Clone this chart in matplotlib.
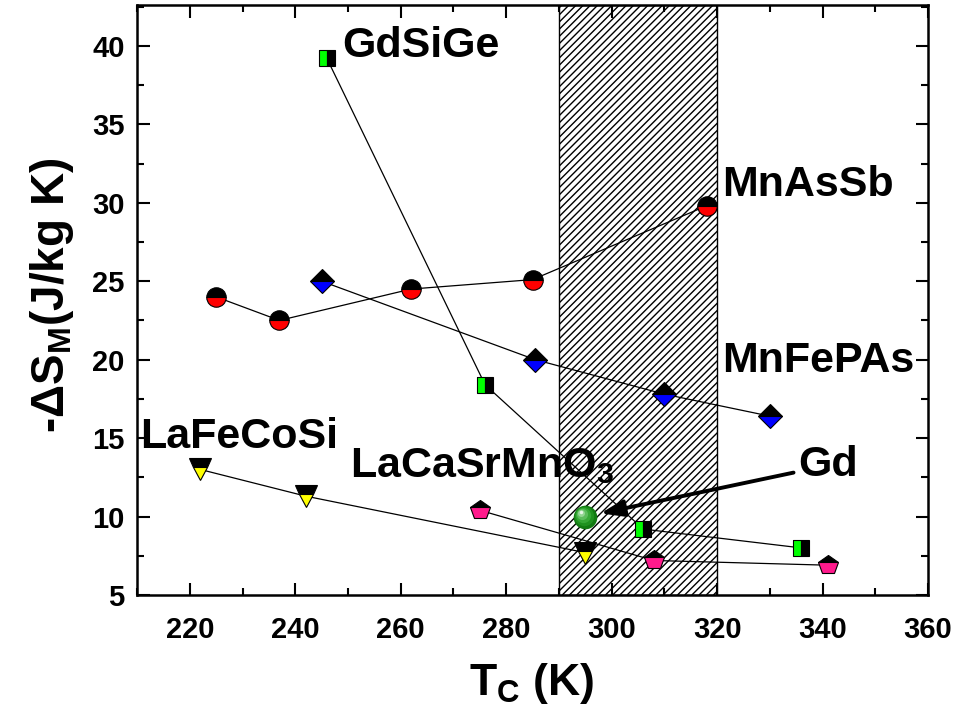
import matplotlib.pyplot as plt
import matplotlib.transforms as mtransforms
from matplotlib.collections import LineCollection
from matplotlib.ticker import MultipleLocator

plt.rcParams['font.family'] = ['Liberation Sans', 'DejaVu Sans']
plt.rcParams['font.weight'] = 'bold'
plt.rcParams['mathtext.fontset'] = 'custom'
plt.rcParams['mathtext.rm'] = 'Liberation Sans:bold'
plt.rcParams['mathtext.it'] = 'Liberation Sans:bold'
plt.rcParams['mathtext.bf'] = 'Liberation Sans:bold'
plt.rcParams['mathtext.default'] = 'regular'

# Curie temperature (K) and magnetic entropy change (J/kg K) per material family
mnassb_tc = [225, 237, 262, 285, 318]
mnassb_ds = [24.0, 22.5, 24.5, 25.1, 29.8]
mnfepas_tc = [245, 285.5, 310, 330]
mnfepas_ds = [25.0, 20.0, 17.8, 16.4]
gdsige_tc = [246, 276, 306, 336]
gdsige_ds = [39.2, 18.4, 9.2, 8.0]
lafecosi_tc = [222, 242, 295]
lafecosi_ds = [13.0, 11.3, 7.7]
lacasrmno_tc = [275, 308, 341]
lacasrmno_ds = [10.4, 7.2, 6.9]
gd_tc = [295]
gd_ds = [10.0]

# room temperature window
band = (290, 320)

fig = plt.figure(figsize=(9.57, 7.08), dpi=100)
ax = fig.add_axes([0.1432, 0.1596, 0.8265, 0.8333])
ax.set_xlim(210, 360)
ax.set_ylim(5, 42.6)

rect = ax.axvspan(band[0], band[1], facecolor='white', edgecolor='black',
                  linewidth=1.0, zorder=1)

# diagonal hatching, drawn by hand for a tighter spacing than hatch='//' gives
w_px = 0.8265 * 957
h_px = 0.8333 * 708
step = 7.2
segs = []
k = -h_px
while k < w_px:
    segs.append([(k / w_px, 0.0), ((k + h_px) / w_px, 1.0)])
    k += step
hatch = LineCollection(segs, colors='black', linewidths=1.0,
                       transform=ax.transAxes, zorder=1.5)
ax.add_collection(hatch, autolim=False)
hatch.set_clip_path(rect)

series = [
    (mnassb_tc, mnassb_ds, 'o', 'top', 'black', 'red', 14),
    (mnfepas_tc, mnfepas_ds, 'D', 'top', 'black', '#0000ff', 12.5),
    (gdsige_tc, gdsige_ds, 's', 'left', '#00ff00', 'black', 11.5),
    (lafecosi_tc, lafecosi_ds, 'v', 'top', 'black', '#ffff00', 16),
    (lacasrmno_tc, lacasrmno_ds, 'p', 'top', 'black', '#ff1a8c', 14.5),
]
for x, y, m, fs, c1, c2, ms in series:
    ax.plot(x, y, '-', color='black', lw=0.9, zorder=2)
    ax.plot(x, y, ls='none', marker=m, fillstyle=fs, markerfacecolor=c1,
            markerfacecoloralt=c2, markeredgecolor='black', markeredgewidth=0.8,
            ms=ms, zorder=4)

# shaded green sphere for Gd
ax.plot(gd_tc, gd_ds, 'o', color='#127a12', ms=17, mec='none', zorder=5)
shades = [('#1f921f', 14, 0.7), ('#36a836', 11, 1.4), ('#5cbd5c', 8, 2.1),
          ('#93d693', 5, 2.8), ('#e6f5e6', 2.5, 3.3)]
for col, size, off in shades:
    tr = mtransforms.offset_copy(ax.transData, fig=fig, x=-off, y=off, units='points')
    ax.plot(gd_tc, gd_ds, 'o', color=col, ms=size, mec='none', zorder=5, transform=tr)

ax.annotate('', xy=(297.9, 10.2), xytext=(334.5, 12.8),
            arrowprops=dict(arrowstyle='-|>,head_length=0.7,head_width=0.25',
                            lw=2.8, color='black', shrinkA=0, shrinkB=0,
                            mutation_scale=20), zorder=6)

lab = dict(fontsize=31, fontweight='bold', va='center', ha='left', zorder=6)
ax.text(249, 40.0, 'GdSiGe', **lab)
ax.text(321, 31.1, 'MnAsSb', **lab)
ax.text(321, 19.9, 'MnFePAs', **lab)
ax.text(210.5, 15.1, 'LaFeCoSi', **lab)
ax.text(250.4, 13.2, 'LaCaSrMnO$_3$', **lab)
ax.text(335.3, 13.3, 'Gd', **lab)

ax.xaxis.set_major_locator(MultipleLocator(20))
ax.xaxis.set_minor_locator(MultipleLocator(10))
ax.yaxis.set_major_locator(MultipleLocator(5))
ax.yaxis.set_minor_locator(MultipleLocator(2.5))
ax.tick_params(which='both', direction='in', top=True, right=True, width=1.5)
ax.tick_params(which='major', length=9, labelsize=21)
ax.tick_params(which='minor', length=5)
ax.tick_params(axis='x', which='major', pad=15)
ax.tick_params(axis='y', which='major', pad=9)
for lbl in ax.get_xticklabels() + ax.get_yticklabels():
    lbl.set_fontweight('bold')
for sp in ax.spines.values():
    sp.set_linewidth(1.8)

fig.text(0.556, 0.019, 'T$_\\mathregular{C}$ (K)', fontsize=32, fontweight='bold',
         ha='center', va='baseline')
fig.text(0.054, 0.583, '-$\\Delta$S$_\\mathregular{M}$(J/kg K)', fontsize=33,
         fontweight='bold', rotation=90, ha='center', va='center')

fig.savefig('out.png', dpi=100)
